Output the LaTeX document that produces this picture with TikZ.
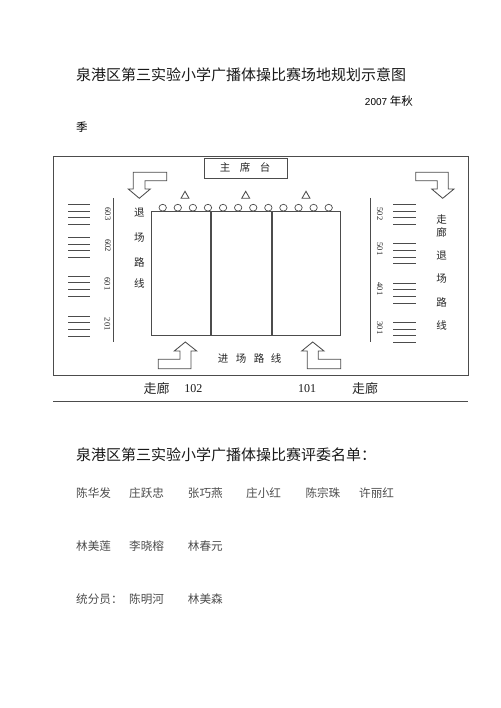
\documentclass[tikz,border=0pt]{standalone}
\usepackage{fontspec}
\setmainfont{Liberation Serif}
\newfontfamily\cjk{Noto Sans CJK SC}
\newfontfamily\arialfont{Liberation Sans}
\definecolor{linegray}{gray}{.3}
\definecolor{namegray}{gray}{.3}
\tikzset{
 plan/.style={draw=linegray,line width=.85pt},
 seat/.style={draw=linegray,line width=.7pt,fill=white},
 headline/.style={anchor=west,inner sep=0pt,font=\cjk\fontsize{15}{15}\selectfont,text=black!90},
 judge/.style={anchor=west,inner sep=0pt,font=\cjk\fontsize{11.6}{12}\selectfont,text=namegray},
 route/.style={inner sep=0pt,text height=9pt,text depth=1.5pt,font=\cjk\fontsize{10.5}{10}\selectfont,text=black!85},
 room/.style={inner sep=0pt,rotate=-90,font=\fontsize{8.5}{9}\selectfont,text=black!85},
 hall/.style={inner sep=0pt,font=\cjk\fontsize{13}{13}\selectfont,text=black!85},
 num/.style={inner sep=0pt,font=\fontsize{12}{12}\selectfont,text=black!90},
}
\begin{document}
\begin{tikzpicture}[x=1pt,y=-1pt]
 \useasboundingbox (0,0) rectangle (500,708);
 \node[headline] (plantitle) at (76,75) {泉港区第三实验小学广播体操比赛场地规划示意图};
 \node[inner sep=0pt,anchor=east,font=\cjk\fontsize{11.5}{12}\selectfont] (date) at (413,100.7) {{\arialfont\fontsize{10}{10}\selectfont 2007} 年秋};
 \node[inner sep=0pt,anchor=west,font=\cjk\fontsize{11.5}{12}\selectfont] (season) at (76,127) {季};
 % site
 \draw[plan] (53,156) rectangle (468,375);
 \draw[plan] (53,401)--(468,401);
 \node[plan,minimum width=83pt,minimum height=20pt,inner sep=0pt] (stand) at (245.5,168) {};
 \node[route] (stand1) at (225,168) {主};
 \node[route] (stand2) at (245,168) {席};
 \node[route] (stand3) at (265,168) {台};
 % field
 \draw[plan] (151,211) rectangle (340.3,335.7);
 \draw[plan,line width=2pt] (211.3,211)--(211.3,335.7);
 \draw[plan,line width=2pt] (272,211)--(272,335.7);
 \foreach \n in {0,...,11} \draw[seat] (162.7+15.09*\n,207.7) ellipse (3.7pt and 3.4pt);
 \foreach \x in {185,245.7,306} \draw[plan] (\x-4,198.3)--(\x+4,198.3)--(\x,191.3)--cycle;
 % arrows
 \draw[plan] (133.3,172.3)--(166.7,172.3)--(166.7,180.7)--(145,180.7)--(145,189)--(150.3,189)--(139.3,198.3)--(128.3,189)--(133.3,189)--cycle;
 \draw[plan] (415.7,172.3)--(448.3,172.3)--(448.3,189)--(454,189)--(442.7,198.3)--(431.7,189)--(437.3,189)--(437.3,180.7)--(415.7,180.7)--cycle;
 \draw[plan] (158.3,368.7)--(158.3,359.3)--(180,359.3)--(180,351)--(174.3,351)--(185.3,342)--(196.7,351)--(191,351)--(191,368.7)--cycle;
 \draw[plan] (340.7,368.7)--(340.7,359.3)--(318.3,359.3)--(318.3,351)--(324,351)--(312.7,342)--(301.7,351)--(307.3,351)--(307.3,368.7)--cycle;
 % rows
 \draw[plan] (113.3,198)--(113.3,342);
 \draw[plan] (370.3,198)--(370.3,342);
 \foreach \y in {204.3,211,217.7,224.3,237.7,244,250.7,257.3,276,282.7,289.3,296,316,322.7,329.3,336}
  \draw[plan] (68.3,\y)--(90.3,\y);
 \foreach \y in {204.3,211,217.7,224.3,243.7,250.3,257,263.7,283,289.7,296.3,303,322.3,329,335.7,342.3}
  \draw[plan] (393.3,\y)--(415.7,\y);
 \node[room] (r603) at (108,214) {603};
 \node[room] (r602) at (108,245.7) {602};
 \node[room] (r601) at (107.5,284) {601};
 \node[room] (r201) at (107.5,324.3) {201};
 \node[room] (r502) at (380,214) {502};
 \node[room] (r501) at (380,249) {501};
 \node[room] (r401) at (380,289) {401};
 \node[room] (r301) at (380,328) {301};
 % routes
 \node[route] (exitl1) at (139.3,213) {退};
 \node[route] (exitl2) at (139.3,238) {场};
 \node[route] (exitl3) at (139.3,263) {路};
 \node[route] (exitl4) at (139.3,284) {线};
 \node[route] (hallr1) at (441.7,220) {走};
 \node[route] (hallr2) at (441.7,232.7) {廊};
 \node[route] (exitr1) at (441.7,256) {退};
 \node[route] (exitr2) at (441.7,279) {场};
 \node[route] (exitr3) at (441.7,302.7) {路};
 \node[route] (exitr4) at (441.7,326) {线};
 \node[route] (in1) at (223,359) {进};
 \node[route] (in2) at (241,359) {场};
 \node[route] (in3) at (259,359) {路};
 \node[route] (in4) at (276,359) {线};
 \node[hall] (hall1) at (156.7,388.5) {走廊};
 \node[num] (n102) at (193.3,388.5) {102};
 \node[num] (n101) at (307,388.5) {101};
 \node[hall] (hall2) at (365,388.5) {走廊};
 % judges
 \node[headline] (listtitle) at (76,455) {泉港区第三实验小学广播体操比赛评委名单：};
 \node[judge] (j1) at (76,493.3) {陈华发};
 \node[judge] (j2) at (129,493.3) {庄跃忠};
 \node[judge] (j3) at (187.7,493.3) {张巧燕};
 \node[judge] (j4) at (246,493.3) {庄小红};
 \node[judge] (j5) at (305.3,493.3) {陈宗珠};
 \node[judge] (j6) at (359,493.3) {许丽红};
 \node[judge] (j7) at (76,546) {林美莲};
 \node[judge] (j8) at (129,546) {李晓榕};
 \node[judge] (j9) at (187.7,546) {林春元};
 \node[judge] (s0) at (76,599) {统分员：};
 \node[judge] (s1) at (129,599) {陈明河};
 \node[judge] (s2) at (187.7,599) {林美森};
\end{tikzpicture}
\end{document}
